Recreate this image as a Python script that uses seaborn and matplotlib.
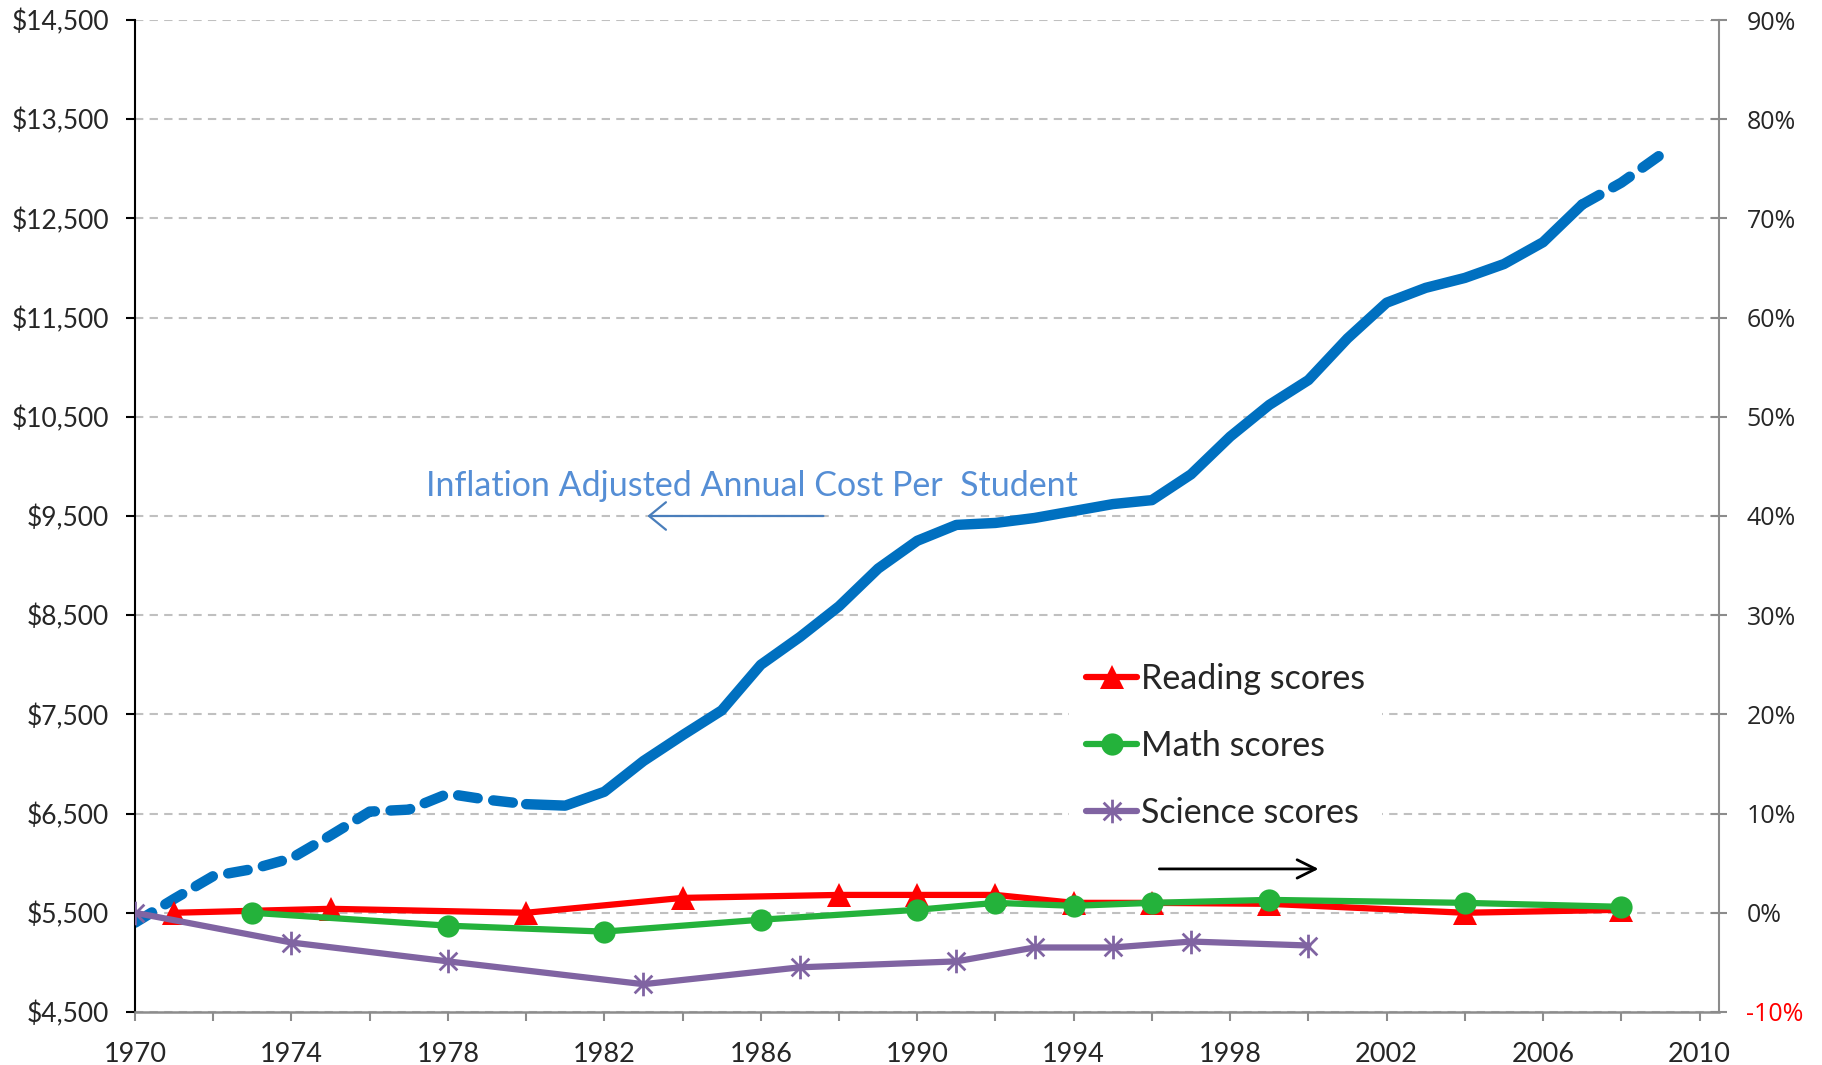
import numpy as np
import pandas as pd
import seaborn as sns
import matplotlib.pyplot as plt
from matplotlib.path import Path
from matplotlib.ticker import FuncFormatter

# ---- data
cost_years = list(range(1970, 2010))
cost = [5400, 5640, 5870, 5940, 6050, 6280, 6520, 6540, 6700, 6640, 6595, 6580,
        6720, 7030, 7290, 7540, 8000, 8280, 8590, 8970, 9250, 9410, 9430, 9480,
        9550, 9620, 9660, 9920, 10300, 10620, 10870, 11290, 11650, 11800, 11900,
        12040, 12260, 12640, 12860, 13140]

reading_years = [1971, 1975, 1980, 1984, 1988, 1990, 1992, 1994, 1996, 1999, 2004, 2008]
reading = [0.0, 0.4, 0.0, 1.5, 1.8, 1.8, 1.8, 1.0, 1.0, 0.9, 0.0, 0.3]

math_years = [1973, 1978, 1982, 1986, 1990, 1992, 1994, 1996, 1999, 2004, 2008]
math = [0.0, -1.3, -1.9, -0.7, 0.3, 1.0, 0.7, 1.0, 1.3, 1.0, 0.6]

science_years = [1970, 1974, 1978, 1983, 1987, 1991, 1993, 1995, 1997, 2000]
science = [0.0, -3.0, -4.9, -7.2, -5.5, -4.9, -3.5, -3.5, -2.9, -3.3]

left_ticks = list(range(4500, 14501, 1000))
right_ticks = list(range(-10, 91, 10))
year_ticks = list(range(1970, 2011, 2))

cost_df = pd.DataFrame({"year": cost_years, "cost": cost})
reading_df = pd.DataFrame({"year": reading_years, "pct": reading})
math_df = pd.DataFrame({"year": math_years, "pct": math})
science_df = pd.DataFrame({"year": science_years, "pct": science})

sns.set_theme(style="white")
plt.rcParams["font.family"] = ["Lato", "DejaVu Sans"]

fig = plt.figure(figsize=(18.22, 10.65), dpi=100)
ax = fig.add_axes([0.0741, 0.0498, 0.8694, 0.9314])
ax2 = ax.twinx()

# cost per student (left axis) - dashed at both ends
blue = "#0070C0"
dash = (0, (1.9, 1.5))
sns.lineplot(data=cost_df[cost_df.year <= 1980], x="year", y="cost", ax=ax, color=blue,
             lw=7.5, linestyle=dash, dash_capstyle="round")
sns.lineplot(data=cost_df[(cost_df.year >= 1980) & (cost_df.year <= 2007)], x="year", y="cost",
             ax=ax, color=blue, lw=7.5, solid_capstyle="round")
sns.lineplot(data=cost_df[cost_df.year >= 2007], x="year", y="cost", ax=ax, color=blue,
             lw=7.5, linestyle=dash, dash_capstyle="round")

# test scores (right axis)
asterisk = Path([(0, -1), (0, 1), (-0.75, -0.75), (0.75, 0.75), (-0.75, 0.75), (0.75, -0.75)],
                [Path.MOVETO, Path.LINETO] * 3)
sns.lineplot(data=reading_df, x="year", y="pct", ax=ax2, color="#FF0000", lw=4.5,
             marker="^", markersize=17, markeredgewidth=0, label="Reading scores")
sns.lineplot(data=math_df, x="year", y="pct", ax=ax2, color="#24B23B", lw=4.5,
             marker="o", markersize=16, markeredgewidth=0, label="Math scores")
sns.lineplot(data=science_df, x="year", y="pct", ax=ax2, color="#8064A2", lw=4.5,
             marker=asterisk, markersize=17, markeredgewidth=2,
             markeredgecolor="#8064A2", label="Science scores")

# axes
ax.set_xlim(1970, 2010.5)
ax.set_ylim(4500, 14500)
ax2.set_ylim(-10, 90)
ax.set_xlabel("")
ax.set_ylabel("")
ax2.set_ylabel("")

ax.set_xticks(year_ticks)
ax.set_xticklabels([str(y) if (y - 1970) % 4 == 0 else "" for y in year_ticks])
ax.set_yticks(left_ticks)
ax.yaxis.set_major_formatter(FuncFormatter(lambda v, p: f"${v:,.0f}"))
ax2.set_yticks(right_ticks)
ax2.set_yticklabels([f"{t}%" for t in right_ticks])

ax.grid(axis="y", color="#C0C0C0", linestyle=(0, (4, 3)), lw=1.5)
ax.grid(axis="x", visible=False)
ax.set_axisbelow(True)

for s in ["top", "right"]:
    ax.spines[s].set_visible(False)
for s in ["top", "left", "bottom"]:
    ax2.spines[s].set_visible(False)
ax.spines["left"].set_color("black")
ax.spines["left"].set_linewidth(1.5)
ax.spines["bottom"].set_color("#8C8C8C")
ax.spines["bottom"].set_linewidth(1.8)
ax2.spines["right"].set_color("#8C8C8C")
ax2.spines["right"].set_linewidth(1.5)

ax.tick_params(axis="y", direction="out", length=6.5, width=1.5, color="black",
               pad=12, labelsize=19, left=True)
ax.tick_params(axis="x", direction="out", length=6.5, width=1.5, color="#8C8C8C",
               pad=15, labelsize=19.5, bottom=True)
ax2.tick_params(axis="y", direction="inout", length=11.5, width=1.5, color="#8C8C8C",
                pad=14, labelsize=18, right=True)
for lab in ax2.get_yticklabels():
    lab.set_fontfamily(["Open Sans", "DejaVu Sans"])
ax2.get_yticklabels()[0].set_color("red")

# annotations
ax.text(1977.44, 9802, "Inflation Adjusted Annual Cost Per  Student", color="#558ED5",
        fontsize=24.5, ha="left", va="center")
ax.annotate("", xy=(1983.1, 9500), xytext=(1987.6, 9500),
            arrowprops=dict(arrowstyle="->, head_length=0.55, head_width=0.45", color="#4A7EBB",
                            lw=1.6, mutation_scale=22, shrinkA=0, shrinkB=0))
ax.annotate("", xy=(2000.26, 5942), xytext=(1996.19, 5942),
            arrowprops=dict(arrowstyle="->, head_length=0.6, head_width=0.3", color="black",
                            lw=2, mutation_scale=22, shrinkA=0, shrinkB=0))

leg = ax2.legend(loc="center left", bbox_to_anchor=(0.5775, 0.2995), bbox_transform=fig.transFigure,
                 frameon=True, framealpha=1, facecolor="white", edgecolor="none", fontsize=24.5,
                 handlelength=1.5, handletextpad=0.12, labelspacing=1.02, borderpad=0.5)
leg.get_frame().set_boxstyle("square", pad=0)

fig.savefig("out.png", dpi=100)
